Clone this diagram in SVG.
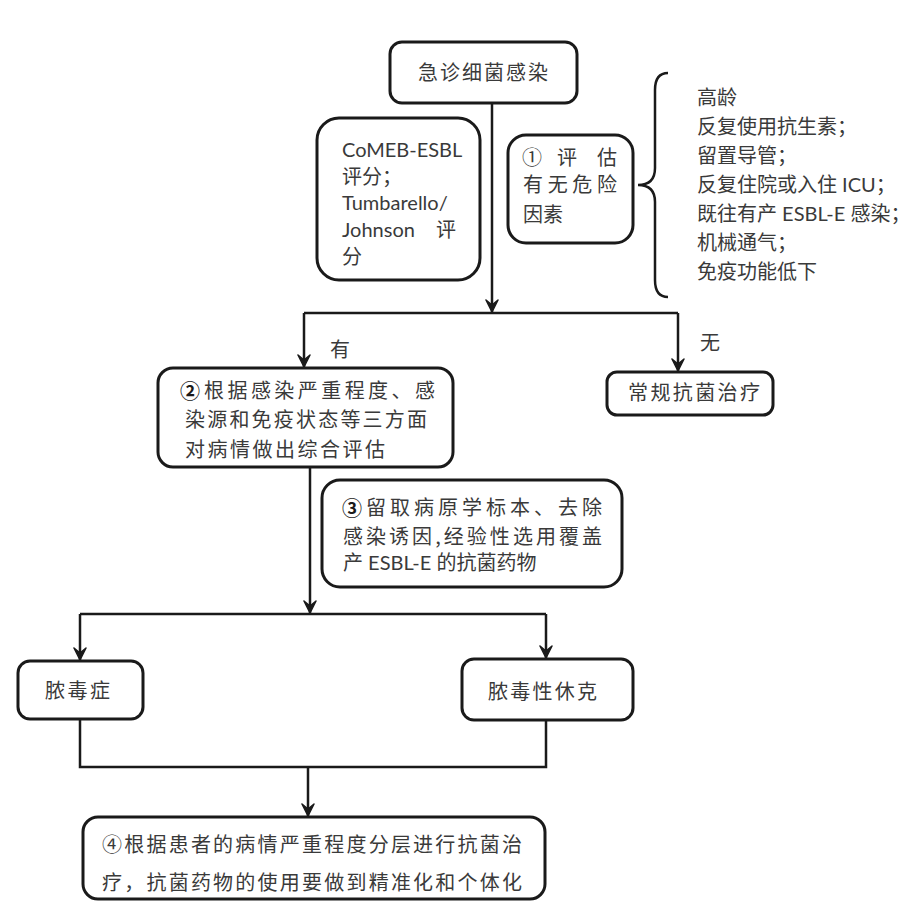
<svg xmlns="http://www.w3.org/2000/svg" width="913" height="904" viewBox="0 0 913 904">
<style>
.box{fill:#fff;stroke:#1a1a1a;stroke-width:3}
.t{font-family:"Lato","Noto Sans CJK SC",sans-serif;font-size:20px;fill:#3a3a3a}
.c{font-family:"Noto Sans CJK SC",sans-serif;font-size:20px;fill:#3a3a3a}
.b{font-weight:bold;fill:#1a1a1a}
.ln{fill:none;stroke:#1a1a1a;stroke-width:2.5}
</style>
<defs>
<marker id="ah" markerWidth="16" markerHeight="14" refX="15" refY="7" orient="auto" markerUnits="userSpaceOnUse" viewBox="0 0 16 14">
<path d="M3,1 L15,7 L3,13 L8,7 Z" fill="#1a1a1a" stroke="#1a1a1a" stroke-width="1.5" stroke-linejoin="round"/>
</marker>
</defs>
<rect width="913" height="904" fill="#fff"/>
<g id="connectors">
<path class="ln" d="M492,103 V312" marker-end="url(#ah)"/>
<path class="ln" d="M304,313 H678"/>
<path class="ln" d="M304,313 V367" marker-end="url(#ah)"/>
<path class="ln" d="M678,313 V371" marker-end="url(#ah)"/>
<path class="ln" d="M310,467 V613" marker-end="url(#ah)"/>
<path class="ln" d="M80,614 H546"/>
<path class="ln" d="M80,614 V660" marker-end="url(#ah)"/>
<path class="ln" d="M546,614 V658" marker-end="url(#ah)"/>
<path class="ln" d="M80,719 V767 H546 V720"/>
<path class="ln" d="M308,767 V816" marker-end="url(#ah)"/>
<path class="ln" d="M668,73 Q655,73 655,90 L655,168 Q655,185 638,185 Q655,185 655,202 L655,280 Q655,297 668,297"/>
<text class="c" x="330" y="357">有</text>
<text class="c" x="700" y="350">无</text>
</g>
<g id="n1">
<rect class="box" x="390" y="42" width="187" height="61" rx="12"/>
<text class="c" x="418" y="80" textLength="130">急诊细菌感染</text>
</g>
<g id="n_score">
<rect class="box" x="317" y="118" width="163" height="162" rx="22"/>
<text class="t" x="342" y="157">CoMEB-ESBL</text>
<text class="t" x="342" y="184">评分；</text>
<text class="t" x="342" y="210">Tumbarello/</text>
<text class="t" x="342" y="237">Johnson</text>
<text class="t" x="436" y="237">评</text>
<text class="t" x="342" y="264">分</text>
</g>
<g id="n_risk">
<rect class="box" x="508" y="135" width="125" height="108" rx="18"/>
<text class="c" x="522" y="165" font-size="22">①</text>
<text class="c" x="557" y="165">评</text>
<text class="c" x="597" y="165">估</text>
<text class="c" x="523" y="192" textLength="94">有无危险</text>
<text class="c" x="523" y="222">因素</text>
</g>
<g id="n_list">
<text class="t" x="697" y="105">高龄</text>
<text class="t" x="697" y="134">反复使用抗生素；</text>
<text class="t" x="697" y="163">留置导管；</text>
<text class="t" x="697" y="192">反复住院或入住 ICU；</text>
<text class="t" x="697" y="221">既往有产 ESBL-E 感染；</text>
<text class="t" x="697" y="250">机械通气；</text>
<text class="t" x="697" y="279">免疫功能低下</text>
</g>
<g id="n2">
<rect class="box" x="158" y="368" width="295" height="99" rx="15"/>
<text class="c b" x="180" y="399" font-size="22">②</text>
<text class="c" x="204" y="398" textLength="231">根据感染严重程度、感</text>
<text class="c" x="185" y="427" textLength="242">染源和免疫状态等三方面</text>
<text class="c" x="185" y="457" textLength="200">对病情做出综合评估</text>
</g>
<g id="n_routine">
<rect class="box" x="607" y="372" width="166" height="43" rx="10"/>
<text class="c" x="628" y="400" textLength="132">常规抗菌治疗</text>
</g>
<g id="n3">
<rect class="box" x="322" y="480" width="300" height="107" rx="18"/>
<text class="c b" x="342" y="516" font-size="22">③</text>
<text class="c" x="366" y="515" textLength="236">留取病原学标本、去除</text>
<text class="c" x="343" y="544" textLength="259">感染诱因,经验性选用覆盖</text>
<text class="t" x="343" y="570">产 ESBL-E 的抗菌药物</text>
</g>
<g id="n_sepsis">
<rect class="box" x="18" y="661" width="125" height="58" rx="12"/>
<text class="c" x="45" y="698" textLength="65">脓毒症</text>
</g>
<g id="n_shock">
<rect class="box" x="462" y="659" width="171" height="61" rx="12"/>
<text class="c" x="488" y="699" textLength="109">脓毒性休克</text>
</g>
<g id="n4">
<rect class="box" x="83" y="817" width="462" height="82" rx="15"/>
<text class="c" x="102" y="852" textLength="420">④根据患者的病情严重程度分层进行抗菌治</text>
<text class="c" x="102" y="890" textLength="420">疗，抗菌药物的使用要做到精准化和个体化</text>
</g>
</svg>
